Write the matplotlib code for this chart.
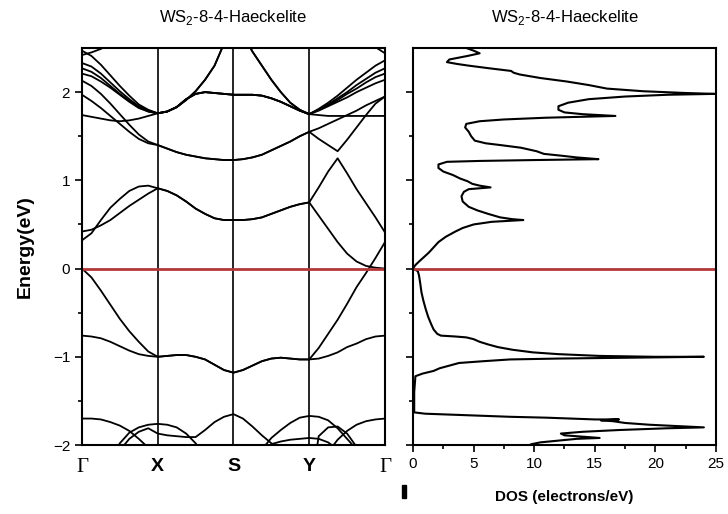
import numpy as np
import matplotlib.pyplot as plt
from matplotlib.patches import Rectangle

plt.rcParams['font.family'] = ['Liberation Sans', 'DejaVu Sans']
plt.rcParams['mathtext.fontset'] = 'custom'
plt.rcParams['mathtext.rm'] = 'Liberation Sans'

# high-symmetry path and band energies (eV), 9 samples per segment
kpoint_labels = ['Γ', 'X', 'S', 'Y', 'Γ']

gx_v1 = [0.00, -0.10, -0.25, -0.41, -0.57, -0.71, -0.83, -0.94, -1.00]
gx_v2 = [-0.76, -0.77, -0.79, -0.83, -0.88, -0.93, -0.97, -0.99, -1.00]
xs_v = [-1.00, -0.99, -0.98, -0.98, -1.00, -1.03, -1.09, -1.15, -1.18]
sy_v = [-1.18, -1.15, -1.10, -1.05, -1.02, -1.01, -1.02, -1.03, -1.03]
yg_v1 = [-1.03, -0.90, -0.74, -0.58, -0.40, -0.21, -0.05, 0.12, 0.30]
yg_v2 = [-1.03, -1.02, -0.99, -0.95, -0.89, -0.85, -0.80, -0.77, -0.76]

gx_c1 = [0.32, 0.40, 0.55, 0.69, 0.79, 0.88, 0.93, 0.94, 0.91]
gx_c2 = [0.42, 0.44, 0.49, 0.55, 0.63, 0.71, 0.78, 0.85, 0.91]
xs_c = [0.91, 0.88, 0.83, 0.76, 0.68, 0.62, 0.57, 0.55, 0.55]
sy_c = [0.55, 0.55, 0.56, 0.58, 0.62, 0.66, 0.70, 0.73, 0.75]
yg_c1 = [0.75, 0.92, 1.10, 1.25, 1.08, 0.90, 0.74, 0.58, 0.41]
yg_c2 = [0.75, 0.60, 0.45, 0.30, 0.17, 0.08, 0.03, 0.01, 0.00]

gx_u1 = [1.97, 1.90, 1.82, 1.73, 1.64, 1.55, 1.47, 1.42, 1.40]
gx_u2 = [2.13, 2.07, 1.98, 1.87, 1.75, 1.63, 1.52, 1.44, 1.40]
xs_u = [1.40, 1.36, 1.32, 1.29, 1.27, 1.25, 1.24, 1.23, 1.23]
sy_u = [1.23, 1.24, 1.26, 1.29, 1.34, 1.39, 1.44, 1.50, 1.55]
yg_u1 = [1.55, 1.59, 1.64, 1.69, 1.74, 1.79, 1.85, 1.90, 1.95]
yg_u2 = [1.55, 1.47, 1.40, 1.33, 1.46, 1.60, 1.74, 1.87, 1.95]

gx_flat = [1.74, 1.72, 1.70, 1.68, 1.67, 1.68, 1.70, 1.73, 1.76]
xs_plateau = [1.76, 1.78, 1.83, 1.92, 1.98, 2.00, 1.99, 1.98, 1.97]
sy_plateau = [1.97, 1.97, 1.97, 1.96, 1.93, 1.89, 1.84, 1.79, 1.75]
yg_flat = [1.75, 1.74, 1.73, 1.73, 1.73, 1.73, 1.73, 1.73, 1.73]
xs_steep = [1.76, 1.78, 1.83, 1.91, 2.01, 2.14, 2.30, 2.55, 2.80]
sy_steep = [2.80, 2.66, 2.46, 2.30, 2.14, 2.00, 1.88, 1.80, 1.75]

gx_f1 = [2.21, 2.18, 2.12, 2.05, 1.97, 1.89, 1.82, 1.78, 1.76]
gx_f2 = [2.27, 2.23, 2.16, 2.07, 1.98, 1.90, 1.83, 1.78, 1.76]
gx_f3 = [2.33, 2.29, 2.21, 2.11, 2.01, 1.92, 1.84, 1.79, 1.76]
gx_f4 = [2.47, 2.41, 2.31, 2.19, 2.07, 1.96, 1.86, 1.80, 1.76]
yg_f1 = [1.75, 1.79, 1.84, 1.89, 1.94, 2.00, 2.05, 2.10, 2.14]
yg_f2 = [1.75, 1.80, 1.85, 1.91, 1.98, 2.04, 2.11, 2.17, 2.21]
yg_f3 = [1.75, 1.80, 1.86, 1.93, 2.00, 2.08, 2.15, 2.22, 2.27]
yg_f4 = [1.75, 1.81, 1.88, 1.96, 2.05, 2.14, 2.22, 2.30, 2.36]

gx_top = [2.42, 2.45, 2.49, 2.55, 2.62, 2.70, 2.78, 2.86, 2.92]
xs_top = [2.92, 2.95, 2.98, 3.00, 3.00, 3.00, 3.00, 3.00, 3.00]
sy_top = [3.00, 3.00, 3.00, 3.00, 3.00, 3.00, 2.98, 2.96, 2.95]
yg_top = [2.95, 2.92, 2.88, 2.82, 2.76, 2.68, 2.60, 2.51, 2.44]

gx_l1 = [-1.70, -1.70, -1.71, -1.74, -1.78, -1.84, -1.93, -2.03, -2.12]
gx_l2 = [-2.60, -2.50, -2.35, -2.15, -1.98, -1.86, -1.80, -1.77, -1.76]
gx_l3 = [-2.70, -2.60, -2.45, -2.25, -2.06, -1.93, -1.85, -1.81, -1.87]
xs_l1 = [-2.12, -2.20, -2.20, -2.20, -2.20, -2.20, -2.20, -2.20, -2.20]
xs_l2 = [-1.76, -1.77, -1.80, -1.87, -1.98, -2.12, -2.30, -2.45, -2.55]
xs_l3 = [-1.87, -1.89, -1.90, -1.91, -1.91, -1.83, -1.74, -1.68, -1.65]
sy_l3 = [-1.65, -1.70, -1.79, -1.89, -1.98, -2.08, -2.20, -2.30, -2.40]
sy_l4 = [-2.60, -2.40, -2.25, -2.10, -1.99, -1.96, -1.94, -1.93, -1.92]
sy_l5 = [-2.80, -2.50, -2.30, -2.05, -1.92, -1.83, -1.75, -1.69, -1.67]
sy_low = [-2.60, -2.60, -2.60, -2.60, -2.60, -2.60, -2.60, -2.60, -2.60]
yg_l1 = [-2.20, -2.15, -2.08, -1.94, -1.84, -1.77, -1.73, -1.71, -1.70]
yg_l4 = [-1.92, -1.93, -1.97, -2.05, -2.20, -2.40, -2.50, -2.50, -2.50]
yg_l5 = [-1.67, -1.68, -1.72, -1.81, -1.93, -2.05, -2.20, -2.30, -2.40]
yg_l6 = [-2.20, -1.90, -1.80, -1.79, -1.87, -2.02, -2.20, -2.30, -2.40]
gx_low = [-2.80, -2.80, -2.80, -2.80, -2.80, -2.80, -2.80, -2.80, -2.80]
xs_low = [-2.80, -2.80, -2.80, -2.80, -2.80, -2.80, -2.80, -2.80, -2.80]
yg_low = [-2.50, -2.50, -2.50, -2.50, -2.50, -2.50, -2.50, -2.50, -2.50]

# total density of states: energy (eV) and DOS (electrons/eV)
dos_energy = [2.50, 2.47, 2.44, 2.41, 2.37, 2.34, 2.32, 2.30, 2.27, 2.24, 2.22, 2.20,
              2.16, 2.12, 2.08, 2.04, 2.01, 1.99, 1.98, 1.97, 1.95, 1.92, 1.88, 1.84,
              1.80, 1.77, 1.75, 1.73, 1.71, 1.69, 1.67, 1.64, 1.60, 1.55, 1.50, 1.45,
              1.42, 1.40, 1.37, 1.33, 1.30, 1.28, 1.26, 1.24, 1.23, 1.22, 1.21, 1.18,
              1.14, 1.10, 1.06, 1.02, 0.99, 0.96, 0.94, 0.92, 0.90, 0.87, 0.82, 0.76,
              0.70, 0.66, 0.62, 0.58, 0.56, 0.55, 0.53, 0.50, 0.46, 0.42, 0.36, 0.30,
              0.24, 0.18, 0.13, 0.08, 0.04, 0.01, 0.00, -0.03, -0.08, -0.17, -0.27,
              -0.36, -0.46, -0.55, -0.63, -0.69, -0.74, -0.76, -0.77, -0.78, -0.80,
              -0.83, -0.86, -0.89, -0.92, -0.95, -0.97, -0.99, -1.00, -1.00, -1.01,
              -1.02, -1.03, -1.05, -1.07, -1.10, -1.13, -1.16, -1.19, -1.22, -1.40,
              -1.63, -1.645, -1.66, -1.68, -1.69, -1.71, -1.71, -1.72, -1.73, -1.75,
              -1.77, -1.79, -1.80, -1.81, -1.83, -1.85, -1.87, -1.89, -1.91, -1.92,
              -1.93, -1.95, -1.97, -1.99, -2.00]
dos_value = [4.4, 5.0, 5.5, 4.5, 3.0, 2.8, 3.6, 4.6, 6.3, 8.1, 8.3, 8.8,
             10.5, 12.7, 14.5, 16.0, 19.0, 22.5, 24.9, 21.0, 17.5, 14.5, 12.8, 12.0,
             12.0, 12.5, 14.0, 16.7, 11.0, 7.5, 5.5, 4.4, 4.3, 4.6, 4.8, 5.1,
             6.0, 7.2, 8.9, 10.2, 10.8, 12.2, 13.5, 15.3, 10.0, 5.5, 2.8, 2.1,
             2.1, 2.5, 3.3, 3.9, 4.5, 4.9, 5.5, 6.4, 4.6, 4.2, 4.0, 4.1,
             4.6, 5.3, 6.2, 7.2, 8.2, 9.1, 6.5, 5.0, 4.1, 3.5, 2.7, 2.1,
             1.7, 1.3, 0.9, 0.5, 0.2, 0.05, 0.0, 0.4, 0.5, 0.6, 0.7,
             0.85, 1.05, 1.26, 1.5, 1.7, 2.0, 2.3, 3.5, 4.4, 5.0,
             5.5, 6.2, 7.0, 8.2, 9.9, 12.0, 15.4, 20.0, 24.0, 18.0,
             12.0, 8.0, 5.8, 3.8, 3.0, 2.2, 1.7, 0.8, 0.2, 0.1,
             0.1, 1.0, 4.0, 8.0, 11.0, 15.0, 17.0, 15.5, 16.5, 17.5,
             19.5, 22.5, 24.0, 21.0, 17.0, 14.0, 12.2, 12.5, 14.5, 15.4,
             13.5, 12.0, 10.5, 9.8, 9.6]


def path(*segments):
    out = list(segments[0])
    for seg in segments[1:]:
        out += list(seg[1:])
    return out


bands = [
    path(gx_v1, xs_v, sy_v, yg_v1),
    path(gx_v2, xs_v, sy_v, yg_v2),
    path(gx_c1, xs_c, sy_c, yg_c1),
    path(gx_c2, xs_c, sy_c, yg_c2),
    path(gx_u1, xs_u, sy_u, yg_u1),
    path(gx_u2, xs_u, sy_u, yg_u2),
    path(gx_flat, xs_plateau, sy_plateau, yg_flat),
    path(gx_f1, xs_plateau, sy_plateau, yg_f2),
    path(gx_f2, xs_steep, sy_steep, yg_f1),
    path(gx_f3, xs_steep, sy_steep, yg_f3),
    path(gx_f4, xs_plateau, sy_plateau, yg_f4),
    path(gx_top, xs_top, sy_top, yg_top),
    path(gx_l1, xs_l1, sy_low, yg_l1),
    path(gx_l2, xs_l2, sy_low, yg_low),
    path(gx_l3, xs_l3, sy_l3, yg_low),
    path(gx_low, xs_low, sy_l4, yg_l4),
    path(gx_low, xs_low, sy_l5, yg_l5),
    path(gx_low, xs_low, sy_low, yg_l6),
]
k = np.linspace(0, 4, 33)

fermi_color = '#b4383a'

fig = plt.figure(figsize=(7.28, 5.14), dpi=100)
ax1 = fig.add_axes([0.1126, 0.1342, 0.4162, 0.7724])
ax2 = fig.add_axes([0.5673, 0.1342, 0.4162, 0.7724])

# band structure
for b in bands:
    ax1.plot(k, b, color='black', lw=1.3)
for kx in [1, 2, 3]:
    ax1.axvline(kx, color='black', lw=1.2)
ax1.axhline(0, color=fermi_color, lw=2)
ax1.set_xlim(0, 4)
ax1.set_ylim(-2, 2.5)
ax1.set_xticks(range(5))
ax1.set_xticklabels(kpoint_labels, fontsize=14, fontweight='bold')
for lab in ax1.get_xticklabels():
    if lab.get_text() == 'Γ':
        lab.set_fontfamily('Liberation Serif')
        lab.set_fontweight('normal')
        lab.set_fontsize(15)
ax1.tick_params(axis='x', length=0, pad=9)
ax1.set_yticks([-2, -1, 0, 1, 2])
ax1.set_yticks([-1.5, -0.5, 0.5, 1.5], minor=True)
ax1.tick_params(axis='y', direction='out', length=5, width=1.2, labelsize=11)
ax1.tick_params(axis='y', which='minor', direction='out', length=3, width=1.2)
ax1.set_ylabel('Energy(eV)', fontsize=14, fontweight='bold', labelpad=14)
ax1.set_title('WS$_2$-8-4-Haeckelite', fontsize=12, pad=19)

# density of states
ax2.plot(dos_value, dos_energy, color='black', lw=1.5)
ax2.axhline(0, color=fermi_color, lw=2)
ax2.set_xlim(0, 25)
ax2.set_ylim(-2, 2.5)
ax2.set_xticks([0, 5, 10, 15, 20, 25])
ax2.set_xticks([2.5, 7.5, 12.5, 17.5, 22.5], minor=True)
ax2.set_yticks([-2, -1, 0, 1, 2])
ax2.set_yticks([-1.5, -0.5, 0.5, 1.5], minor=True)
ax2.set_yticklabels([])
ax2.tick_params(direction='out', length=5, width=1.2, labelsize=11)
ax2.tick_params(which='minor', direction='out', length=3, width=1.2)
ax2.set_xlabel('DOS (electrons/eV)', fontsize=11, fontweight='bold', labelpad=14)
ax2.set_title('WS$_2$-8-4-Haeckelite', fontsize=12, pad=19)

for ax in (ax1, ax2):
    for sp in ax.spines.values():
        sp.set_linewidth(1.5)

fig.patches.append(Rectangle((402 / 728, 1 - 498 / 514), 4 / 728, 13 / 514,
                             transform=fig.transFigure, color='black'))

fig.savefig('out.png', dpi=100)
